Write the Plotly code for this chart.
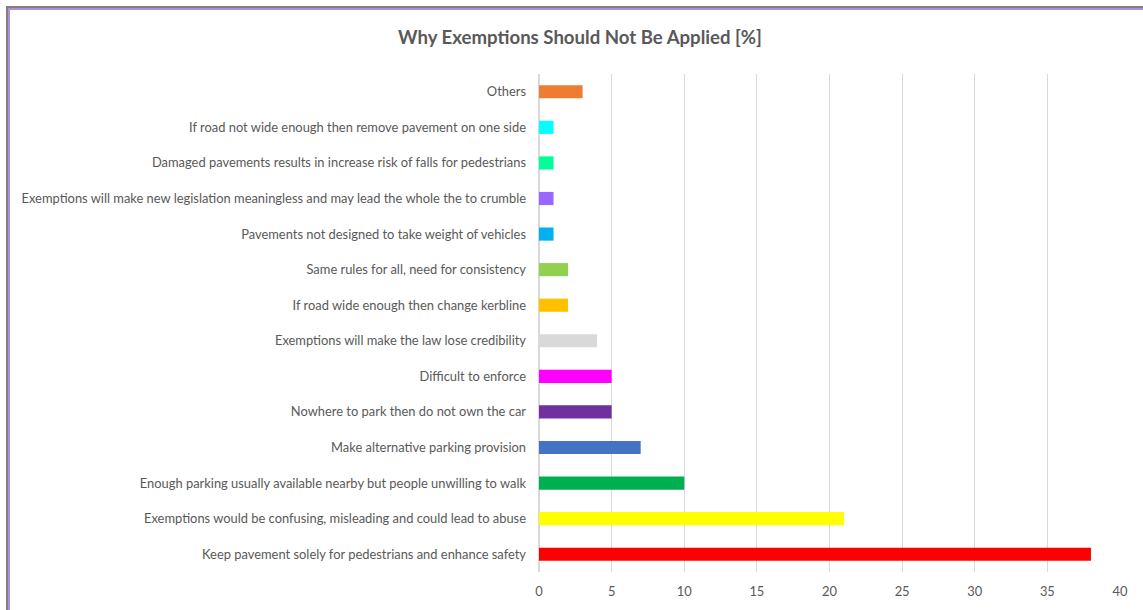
import plotly.graph_objects as go

# Reasons, bottom to top as drawn on the category axis
reasons = [
    "Keep pavement solely for pedestrians and enhance safety",
    "Exemptions would be confusing, misleading and could lead to abuse",
    "Enough parking usually available nearby but people unwilling to walk",
    "Make alternative parking provision",
    "Nowhere to park then do not own the car",
    "Difficult to enforce",
    "Exemptions will make the law lose credibility",
    "If road wide enough then change kerbline",
    "Same rules for all, need for consistency",
    "Pavements not designed to take weight of vehicles",
    "Exemptions will make new legislation meaningless and may lead the whole the to crumble",
    "Damaged pavements results in increase risk of falls for pedestrians",
    "If road not wide enough then remove pavement on one side",
    "Others",
]
percent = [38, 21, 10, 7, 5, 5, 4, 2, 2, 1, 1, 1, 1, 3]
bar_colors = [
    "#FF0000", "#FFFF00", "#00B050", "#4472C4", "#7030A0", "#FF00FF", "#D9D9D9",
    "#FFC000", "#92D050", "#00B0F0", "#9966FF", "#00FF99", "#00FFFF", "#ED7D31",
]
x_ticks = [0, 5, 10, 15, 20, 25, 30, 35, 40]

W, H = 1143, 610
ML, MR, MT, MB = 539, 23, 74, 38
pw, ph = W - ML - MR, H - MT - MB


def px(x):
    return (x - ML) / pw


def py(y):
    return 1 - (y - MT) / ph


fig = go.Figure(
    go.Bar(
        x=percent,
        y=reasons,
        orientation="h",
        marker=dict(color=bar_colors, line=dict(width=0)),
        hoverinfo="x+y",
    )
)

txt = "#595959"
fam = "Lato, 'Open Sans', sans-serif"
fig.update_layout(
    width=W,
    height=H,
    margin=dict(l=ML, r=MR, t=MT, b=MB),
    paper_bgcolor="white",
    plot_bgcolor="white",
    bargap=0.63,
    showlegend=False,
    font=dict(family=fam, size=12.9, color=txt),
    title=dict(
        text="<b>Why Exemptions Should Not Be Applied [%]</b>",
        x=580 / W,
        xanchor="center",
        y=1 - 37 / H,
        yanchor="middle",
        font=dict(size=18.6, color=txt, family=fam),
    ),
    xaxis=dict(
        range=[0, 40],
        tickvals=x_ticks,
        showgrid=True,
        gridcolor="#D9D9D9",
        gridwidth=1,
        zeroline=True,
        zerolinecolor="#D9D9D9",
        showline=False,
        ticks="",
        ticklabelstandoff=10,
        tickfont=dict(size=12.9, color=txt),
        fixedrange=True,
    ),
    yaxis=dict(
        categoryorder="array",
        categoryarray=reasons,
        showgrid=False,
        zeroline=False,
        showline=False,
        ticks="",
        ticklabelstandoff=12,
        tickfont=dict(size=12.9, color=txt),
        fixedrange=True,
    ),
    shapes=[
        # frame: grey outer edge with a lilac inner edge
        dict(type="rect", xref="paper", yref="paper", x0=px(6), x1=px(W + 5),
             y0=py(8), y1=py(6), fillcolor="#7F7F7F", line=dict(width=0), layer="above"),
        dict(type="rect", xref="paper", yref="paper", x0=px(8), x1=px(W + 5),
             y0=py(10), y1=py(8), fillcolor="#B08FD8", line=dict(width=0), layer="above"),
        dict(type="rect", xref="paper", yref="paper", x0=px(6), x1=px(8),
             y0=py(H + 5), y1=py(6), fillcolor="#7F7F7F", line=dict(width=0), layer="above"),
        dict(type="rect", xref="paper", yref="paper", x0=px(8), x1=px(10),
             y0=py(H + 5), y1=py(8), fillcolor="#B08FD8", line=dict(width=0), layer="above"),
    ],
)

fig.write_html("out.html")
